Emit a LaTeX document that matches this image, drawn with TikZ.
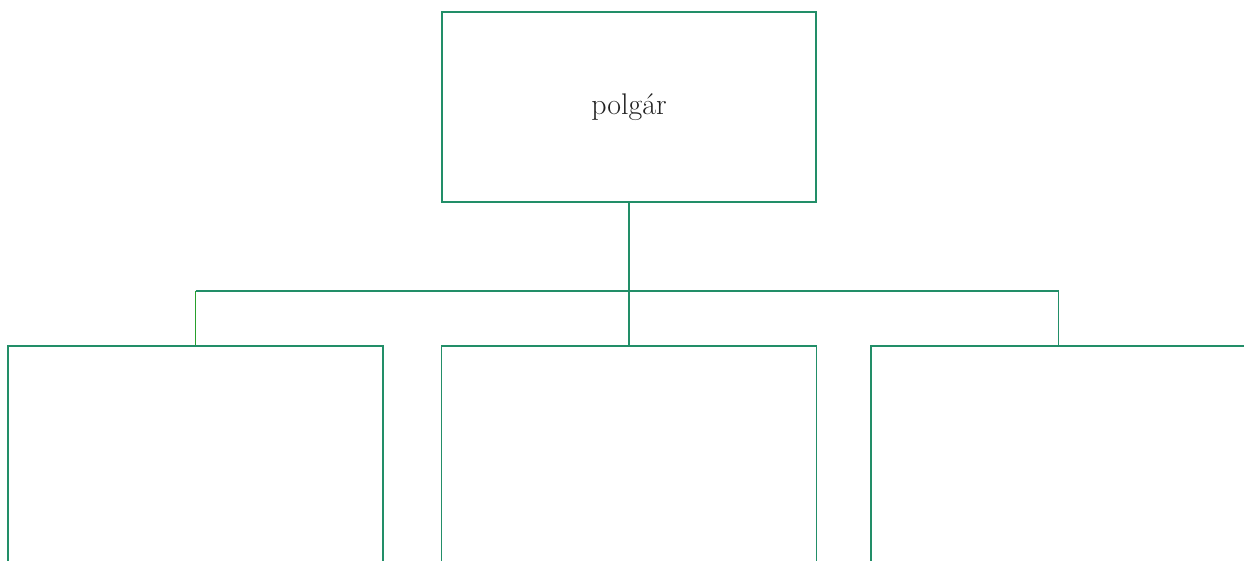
\documentclass[tikz,border=0pt]{standalone}
\usepackage{tikz}
\definecolor{boxgreen}{RGB}{34,142,104}
\definecolor{dropgreen}{RGB}{40,160,45}
\definecolor{labelgray}{RGB}{34,34,34}
\tikzset{
    unitbox/.style={draw=boxgreen, line width=1pt, rectangle, minimum width=7.48cm, minimum height=3.8cm, inner sep=0pt},
    lowbox/.style={unitbox, minimum width=7.5cm, minimum height=5.2cm, anchor=north},
    conn/.style={draw=boxgreen, line width=1pt}
}

\begin{document}
\begin{tikzpicture}[x=0.02cm, y=-0.02cm]
        \useasboundingbox (0,0) rectangle (1244,561);
        \clip (0,0) rectangle (1244,561);
        \node[unitbox, text=labelgray] (polgar) at (629,107) {\fontsize{17}{20}\selectfont polgár};
        \node[lowbox] (left) at (195.5,345) {};
        \node[lowbox] (mid) at (629,345) {};
        \node[lowbox] (right) at (1058.5,345) {};
        \coordinate (bus) at (629,291);
        \draw[conn] (polgar.south) -- (polgar.south |- bus);
        \draw[conn] (left.north |- bus) -- (right.north |- bus);
        \draw[dropgreen, line width=1pt] (left.north |- bus) -- (left.north);
        \draw[conn] (mid.north |- bus) -- (mid.north);
        \draw[conn] (right.north |- bus) -- (right.north);
    \end{tikzpicture}
\end{document}
